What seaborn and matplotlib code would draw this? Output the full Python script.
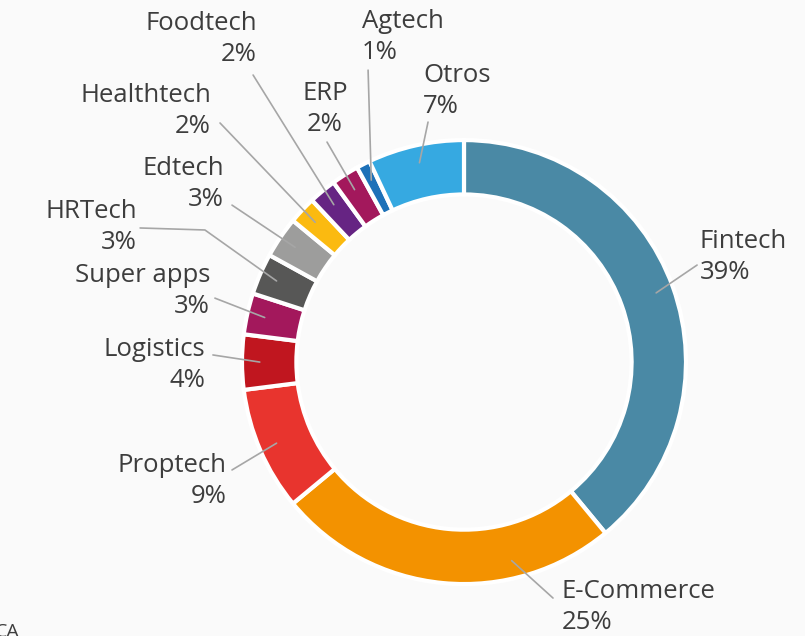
import numpy as np
import seaborn as sns
import matplotlib.pyplot as plt

# sector shares (%)
sectors = ["Fintech", "E-Commerce", "Proptech", "Logistics", "Super apps", "HRTech",
           "Edtech", "Healthtech", "Foodtech", "ERP", "Agtech", "Otros"]
shares = [39, 25, 9, 4, 3, 3, 3, 2, 2, 2, 1, 7]
colors = ["#4A89A5", "#F39200", "#E8342E", "#C0161F", "#A3185C", "#575756",
          "#9D9D9C", "#FBBA10", "#662483", "#A3185C", "#1D71B8", "#36A9E1"]

# label layout: text position, alignment, leader end (data units, radius = 1)
label_pos = {
    "Fintech": ((1.063, 0.473), "left", (1.050, 0.437)),
    "E-Commerce": ((0.440, -1.104), "left", (0.401, -1.063)),
    "Proptech": ((-1.068, -0.536), "right", (-1.045, -0.486)),
    "Logistics": ((-1.167, -0.014), "right", (-1.131, 0.032)),
    "Super apps": ((-1.144, 0.320), "right", (-1.122, 0.288)),
    "HRTech": ((-1.473, 0.608), "right", (-1.459, 0.604)),
    "Edtech": ((-1.081, 0.802), "right", (-1.045, 0.707)),
    "Healthtech": ((-1.140, 1.131), "right", (-1.099, 1.077)),
    "Foodtech": ((-0.932, 1.455), "right", (-0.950, 1.293)),
    "ERP": ((-0.626, 1.140), "center", (-0.617, 0.991)),
    "Agtech": ((-0.459, 1.464), "left", (-0.432, 1.315)),
    "Otros": ((-0.185, 1.221), "left", (-0.162, 1.081)),
}
elbows = {"HRTech": (-1.167, 0.595)}
# where along the wedge (from its clockwise start) the leader touches
anchor_frac = {"E-Commerce": 0.71}

sns.set_theme(style="white")
plt.rcParams["font.family"] = ["Open Sans", "DejaVu Sans"]

fig = plt.figure(figsize=(8.05, 6.36), dpi=100, facecolor="#fafafa")
ax = fig.add_axes([0, 0, 1, 1])
ax.set_facecolor("#fafafa")

wedges, _ = ax.pie(shares, colors=colors, startangle=90, counterclock=False,
                   radius=1.0, wedgeprops=dict(width=0.245, edgecolor="white", linewidth=3))

ax.set_xlim(-2.09, 1.536)
ax.set_ylim(-1.234, 1.631)
ax.set_aspect("equal")
ax.axis("off")

for w, name, val in zip(wedges, sectors, shares):
    (tx, ty), ha, (lx, ly) = label_pos[name]
    frac = anchor_frac.get(name, 0.5)
    ang = np.deg2rad(w.theta1 + (w.theta2 - w.theta1) * frac)
    ax_, ay_ = 0.92 * np.cos(ang), 0.92 * np.sin(ang)
    pts = [(lx, ly)]
    if name in elbows:
        pts.append(elbows[name])
    pts.append((ax_, ay_))
    xs, ys = zip(*pts)
    ax.plot(xs, ys, color="#a6a6a6", lw=1.2, zorder=3)
    ax.text(tx, ty, f"{name}\n{val}%", ha=ha, va="center", multialignment=ha,
            fontsize=18.5, color="#3d3d3d", linespacing=1.32)

fig.text(-0.006, 0.021, "CA", fontsize=14, color="#3d3d3d", ha="left", va="top")

fig.savefig("out.png", dpi=100, facecolor=fig.get_facecolor())
